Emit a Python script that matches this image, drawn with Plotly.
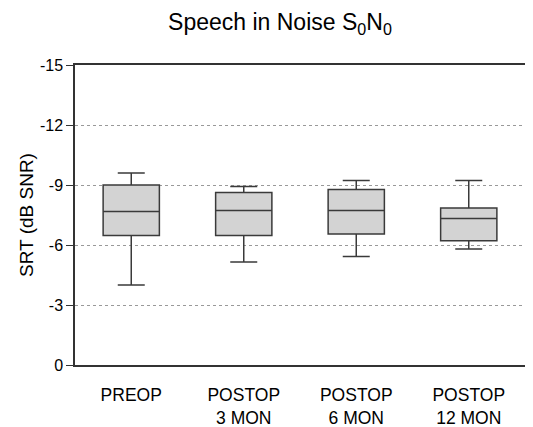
import plotly.graph_objects as go

categories = ["PREOP", "POSTOP<br>3 MON", "POSTOP<br>6 MON", "POSTOP<br>12 MON"]
whisker_low = [-9.6, -8.92, -9.22, -9.22]
box_q1 = [-9.0, -8.63, -8.77, -7.85]
box_median = [-7.68, -7.73, -7.72, -7.32]
box_q3 = [-6.47, -6.47, -6.55, -6.21]
whisker_high = [-4.0, -5.15, -5.42, -5.8]
y_ticks = [-15, -12, -9, -6, -3, 0]

FONT = "Liberation Sans, Arial, sans-serif"

fig = go.Figure()
fig.add_trace(go.Box(
    x=categories,
    q1=box_q1, median=box_median, q3=box_q3,
    lowerfence=whisker_low, upperfence=whisker_high,
    fillcolor="#d3d3d3",
    line=dict(color="#3a3a3a", width=1.5),
    width=0.5,
    whiskerwidth=0.48,
    boxpoints=False,
    showlegend=False,
    hoverinfo="skip",
))

# page body has an 8px margin, so the figure is drawn 8px smaller and offset
fig.update_layout(
    width=525, height=419,
    margin=dict(l=67, r=8, t=57, b=62),
    paper_bgcolor="white", plot_bgcolor="white",
    font=dict(family=FONT, color="black", size=16),
    title=dict(text="Speech in Noise S<sub>0</sub>N<sub>0</sub>",
               x=0.518, xanchor="center", y=0.966, yanchor="middle",
               font=dict(family=FONT, size=23, color="black")),
    xaxis=dict(
        type="category", range=[-0.5, 3.5], automargin=False,
        showline=True, mirror=True, linecolor="#333333", linewidth=1.5,
        showgrid=False, ticks="", ticklabelstandoff=13,
        tickfont=dict(family=FONT, size=17.5, color="black"),
        zeroline=False,
    ),
    yaxis=dict(
        range=[0, -15], tickvals=y_ticks, ticktext=[str(v) for v in y_ticks],
        automargin=False,
        showline=True, mirror=True, linecolor="#333333", linewidth=1.5,
        ticks="outside", ticklen=7, tickcolor="#333333", tickwidth=1.2,
        showgrid=True, gridcolor="#999999", griddash="dot", gridwidth=1,
        zeroline=False,
        tickfont=dict(family=FONT, size=16, color="black"),
        title=dict(text="SRT (dB SNR)", font=dict(family=FONT, size=19, color="black"), standoff=1),
    ),
)

fig.write_html("out.html")
